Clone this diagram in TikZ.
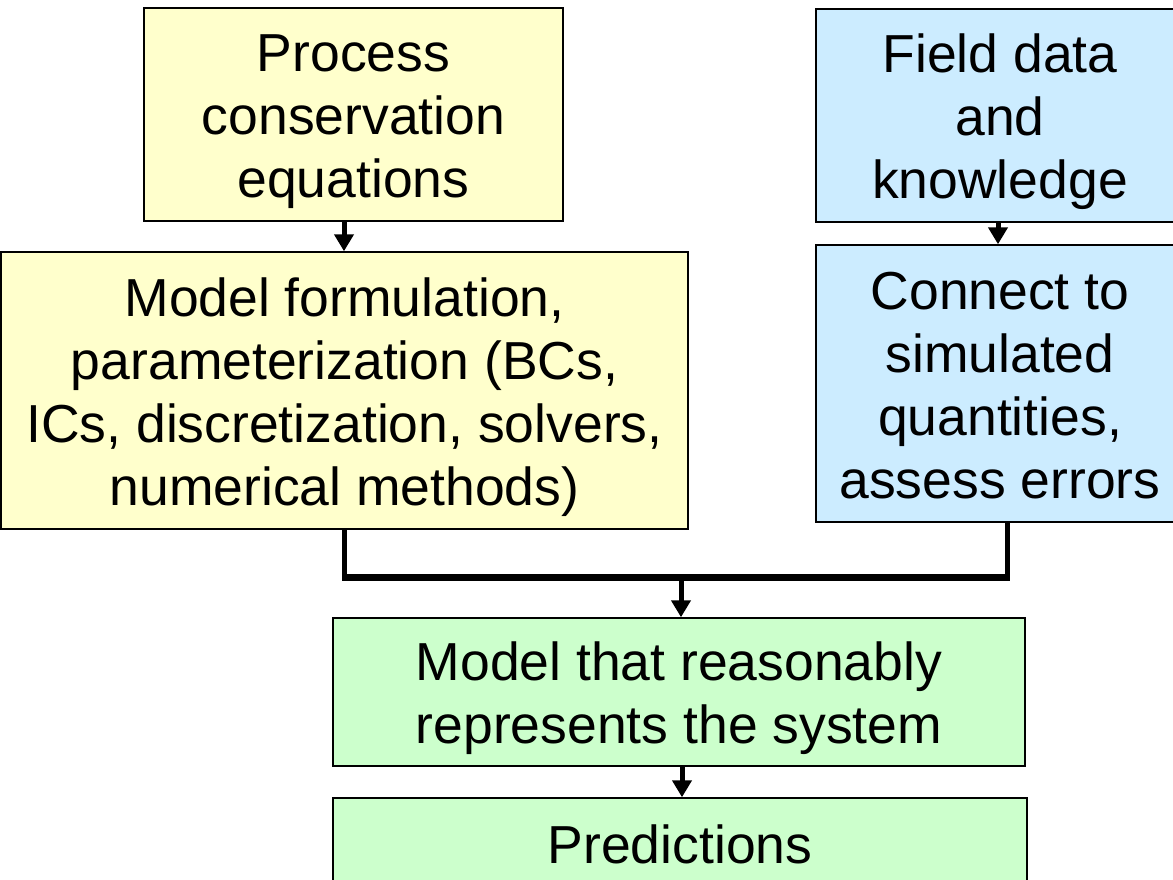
\documentclass[tikz,border=0pt]{standalone}
\usepackage{fontspec}
\setmainfont{Liberation Sans}
\usetikzlibrary{arrows.meta}
\definecolor{yel}{HTML}{FFFFCC}
\definecolor{blu}{HTML}{CCECFF}
\definecolor{grn}{HTML}{CCFFCC}
\newcommand{\TopS}{\rule{0pt}{52pt}}
\newcommand{\BotS}{\rule[-12pt]{0pt}{12pt}}
\tikzset{
  box/.style={draw=black, line width=1.5pt, inner sep=0pt, align=center,
    font=\fontsize{53.5}{63}\selectfont},
  arr/.style={line width=5pt, -{Triangle[length=17pt,width=19pt]}},
  link/.style={line width=5pt},
  hlink/.style={line width=7pt},
}
\begin{document}
\begin{tikzpicture}[x=1pt,y=-1pt]
\clip (0,0) rectangle (1173,879);
\useasboundingbox (0,0) rectangle (1173,879);
\node[box, fill=yel, minimum width=419pt, minimum height=213pt] (y1) at (353.5,114.5)
  {\TopS Process\\conservation\\equations\BotS};
\node[box, fill=yel, minimum width=687pt, minimum height=277pt] (y2) at (344.5,390.5)
  {\TopS Model formulation,\\parameterization (BCs,\\ICs, discretization, solvers,\\numerical methods)\BotS};
\node[box, fill=blu, minimum width=368pt, minimum height=213pt] (b1) at (1000,115.5)
  {\TopS Field data\\and\\knowledge\BotS};
\node[box, fill=blu, minimum width=368pt, minimum height=277pt] (b2) at (1000,383.5)
  {\TopS Connect to\\simulated\\quantities,\\assess errors\BotS};
\node[box, fill=grn, minimum width=692pt, minimum height=148pt] (g1) at (679,692)
  {\TopS Model that reasonably\\represents the system\BotS};
\node[box, fill=grn, minimum width=694pt, minimum height=90pt] (g2) at (680,843)
  {\TopS Predictions\BotS};
\coordinate (j) at (681,577);
\draw[arr] ([xshift=-9.5pt]y1.south) -- ([xshift=-9.5pt]y1.south |- y2.north);
\draw[arr] ([xshift=-2pt]b1.south) -- ([xshift=-2pt]b1.south |- b2.north);
\draw[link] (y2.south) -- (y2.south |- j);
\draw[link] ([xshift=7pt]b2.south) -- ([xshift=7pt]b2.south |- j);
\draw[hlink] ([xshift=-2.5pt]y2.south |- j) -- ([xshift=9.5pt]b2.south |- j);
\draw[arr] (j) -- (j |- g1.north);
\draw[arr] ([xshift=3pt]g1.south) -- ([xshift=3pt]g1.south |- g2.north);
\end{tikzpicture}
\end{document}
